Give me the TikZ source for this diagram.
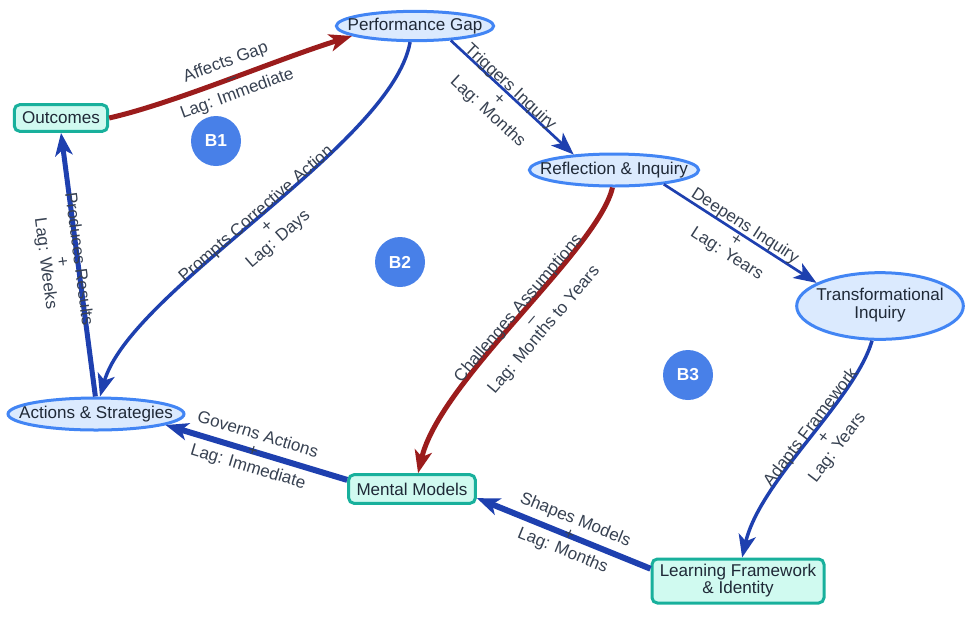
\documentclass[tikz,border=0pt]{standalone}
\usepackage{fontspec}
\setmainfont{Liberation Sans}
\usetikzlibrary{arrows.meta,shapes.geometric}
\definecolor{redc}{RGB}{155,28,28}
\definecolor{bluec}{RGB}{30,64,175}
\definecolor{ellb}{RGB}{66,133,244}
\definecolor{ellf}{RGB}{219,234,254}
\definecolor{boxb}{RGB}{24,176,156}
\definecolor{boxf}{RGB}{208,250,240}
\definecolor{circc}{RGB}{72,128,232}
\definecolor{labc}{RGB}{55,65,81}
\definecolor{nodec}{RGB}{31,41,55}
\newcommand{\zb}[1]{\makebox[0pt]{#1}}
\newcommand{\nfont}{\fontsize{12.8}{12.8}\selectfont}
\newcommand{\lfont}{\fontsize{12.8}{12.5}\selectfont}
\newcommand{\bfont}{\fontsize{13}{15}\selectfont\bfseries}
\begin{document}
\begin{tikzpicture}[x=0.75pt,y=-0.75pt,
  ell/.style={ellipse, draw=ellb, fill=ellf, line width=2.25pt, inner sep=0pt, text=nodec, font=\nfont},
  box/.style={rectangle, rounded corners=4pt, draw=boxb, fill=boxf, line width=2.25pt, inner sep=0pt, text=nodec, font=\nfont},
  loopc/.style={circle, fill=circc, text=white, font=\bfont, minimum size=37.5pt, inner sep=0pt},
  lnk/.style={line width=#1, -{Stealth[length=17pt,width=13pt,inset=4.5pt]}},
  lab/.style={sloped, align=center, font=\lfont, text=labc, inner sep=0pt}]
\useasboundingbox (0,0) rectangle (969,618);

\node[box, minimum width=70pt, minimum height=20pt] (out) at (61,118) {Outcomes};
\node[ell, minimum width=118pt, minimum height=22pt] (pg) at (415,26) {\zb{Performance Gap}};
\node[ell, minimum width=127pt, minimum height=24pt] (ri) at (614,170) {\zb{Reflection \& Inquiry}};
\node[ell, minimum width=125pt, minimum height=50pt] (ti) at (880,306) {\zb{\begin{tabular}{@{}c@{}}Transformational\\Inquiry\end{tabular}}};
\node[ell, minimum width=132pt, minimum height=24pt] (as) at (96,414) {\zb{Actions \& Strategies}};
\node[box, minimum width=95pt, minimum height=21.5pt] (mm) at (412,489) {Mental Models};
\node[box, minimum width=129pt, minimum height=33pt, align=center] (lf) at (738,581) {Learning Framework\\\& Identity};

\node[loopc] (b1) at (216,141) {B1};
\node[loopc] (b2) at (400,262) {B2};
\node[loopc] (b3) at (688,375) {B3};

\draw[lnk=3.75pt, draw=redc] (out.east) .. controls (175,103) and (275,60) .. (pg.189)
  node[lab, pos=0.52] {Affects Gap\\–\\Lag: Immediate};
\draw[lnk=2.6pt, draw=bluec] (pg.-107) .. controls (392,145) and (130,290) .. (as.77)
  node[lab, pos=0.5, yshift=-9pt] {Prompts Corrective Action\\+\\Lag: Days};
\draw[lnk=2pt, draw=bluec] (pg.-22) -- (ri.159)
  node[lab, pos=0.45, yshift=-8pt] {Triggers Inquiry\\+\\Lag: Months};
\draw[lnk=2pt, draw=bluec] (ri.-16) -- (ti.160)
  node[lab, pos=0.5, yshift=-6pt] {Deepens Inquiry\\+\\Lag: Years};
\draw[lnk=3.75pt, draw=redc] (ri.-95) .. controls (598,250) and (440,380) .. (mm.69)
  node[lab, pos=0.48, yshift=-8pt] {Challenges Assumptions\\–\\Lag: Months to Years};
\draw[lnk=2.6pt, draw=bluec] (ti.-103) .. controls (855,400) and (760,480) .. (lf.80)
  node[lab, pos=0.45, yshift=-8pt] {Adapts Framework\\+\\Lag: Years};
\draw[lnk=4.5pt, draw=bluec] (lf.172) -- (mm.-8)
  node[lab, pos=0.47] {Shapes Models\\+\\Lag: Months};
\draw[lnk=4.5pt, draw=bluec] (mm.172) -- (as.-9)
  node[lab, pos=0.52] {Governs Actions\\+\\Lag: Immediate};
\draw[lnk=3.75pt, draw=bluec] (as.92) -- (out.south)
  node[lab, pos=0.52, yshift=-12pt] {Produces Results\\+\\Lag: Weeks};
\end{tikzpicture}
\end{document}
